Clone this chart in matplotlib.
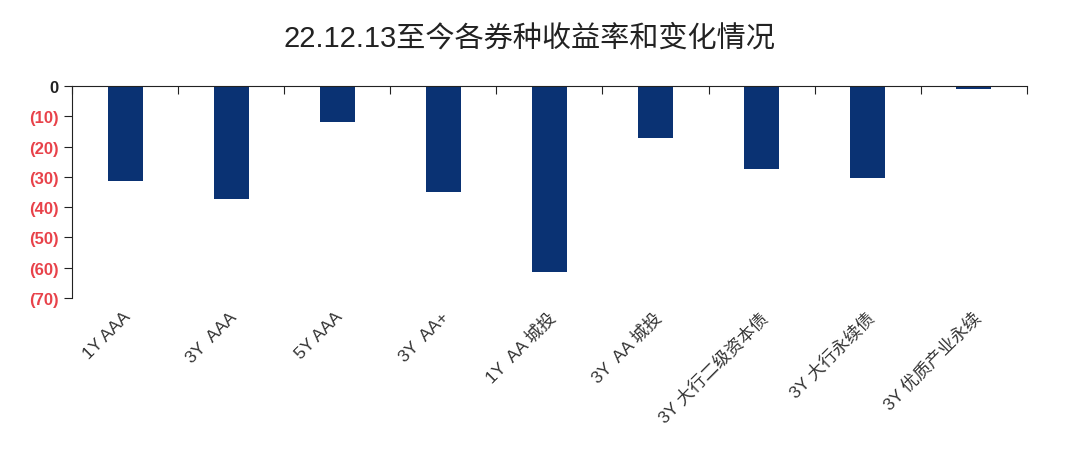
import matplotlib.pyplot as plt
import numpy as np

plt.rcParams['font.family'] = ['Liberation Sans', 'Noto Sans CJK SC', 'DejaVu Sans']

# data (bp)
categories = ['1Y AAA', '3Y  AAA', '5Y AAA', '3Y  AA+', '1Y  AA 城投',
              '3Y  AA 城投', '3Y 大行二级资本债', '3Y 大行永续债', '3Y 优质产业永续']
changes = [-31.5, -37.3, -12.0, -35.0, -61.5, -17.3, -27.5, -30.3, -1.0]
yticks = [0, -10, -20, -30, -40, -50, -60, -70]

fig = plt.figure(figsize=(10.8, 4.6), dpi=100)
ax = fig.add_axes([0.0667, 0.35, 0.884, 0.461])

x = np.arange(len(categories))
ax.bar(x, changes, width=0.33, color='#0a3273')

ax.set_xlim(-0.5, len(categories) - 0.5)
ax.set_ylim(-70, 0)

# spines: x-axis line on top at zero, y-axis on left
ax.spines['bottom'].set_visible(False)
ax.spines['right'].set_visible(False)
ax.spines['top'].set_color('#222222')
ax.spines['left'].set_color('#222222')

# category boundary ticks on the zero line
ax.xaxis.set_ticks_position('top')
ax.set_xticks(np.arange(len(categories) + 1) - 0.5)
ax.tick_params(axis='x', which='major', direction='in', length=6,
               labeltop=False, labelbottom=False, color='#222222')

# category labels at the bottom
for xi, lab in zip(x, categories):
    ax.text(xi - 0.02, -73.5, lab, rotation=45, ha='right', va='top',
            rotation_mode='anchor', fontsize=12.5, color='#333333')

ax.set_yticks(yticks)
ylabels = ['0' if v == 0 else '({})'.format(-v) for v in yticks]
ax.set_yticklabels(ylabels, fontsize=12, fontweight='bold')
for lab, v in zip(ax.get_yticklabels(), yticks):
    lab.set_color('#222222' if v == 0 else '#e8424a')
ax.tick_params(axis='y', direction='out', length=6, color='#222222')

fig.text(0.49, 0.917, '22.12.13至今各券种收益率和变化情况', ha='center', va='center',
         fontsize=21, color='#222222')

fig.savefig('out.png', dpi=100)
